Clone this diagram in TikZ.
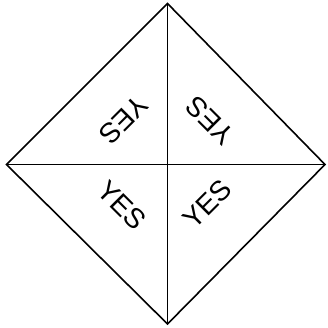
\documentclass[tikz,border=0pt]{standalone}
\usepackage{fontspec}
\setmainfont{Liberation Sans}
\begin{document}
\begin{tikzpicture}[x=1pt,y=-1pt,
  edge/.style={draw=black,line width=1.6pt,line join=miter},
  yes/.style={font=\fontsize{28}{28}\selectfont,inner sep=0pt}]
\useasboundingbox (0,0) rectangle (328,327);
\coordinate (T) at (167.5,3.5);
\coordinate (B) at (167.5,324);
\coordinate (L) at (6.5,164.5);
\coordinate (R) at (325,164.5);
\draw[edge] (T) -- (R) -- (B) -- (L) -- cycle;
\draw[edge] (T) -- (B);
\draw[edge] (L) -- (R);
\node[yes,rotate=225] (ul) at (124,120) {YES};
\node[yes,rotate=135] (ur) at (210,121) {YES};
\node[yes,rotate=-45] (ll) at (122,205) {YES};
\node[yes,rotate=45] (lr) at (207,204) {YES};
\end{tikzpicture}
\end{document}
